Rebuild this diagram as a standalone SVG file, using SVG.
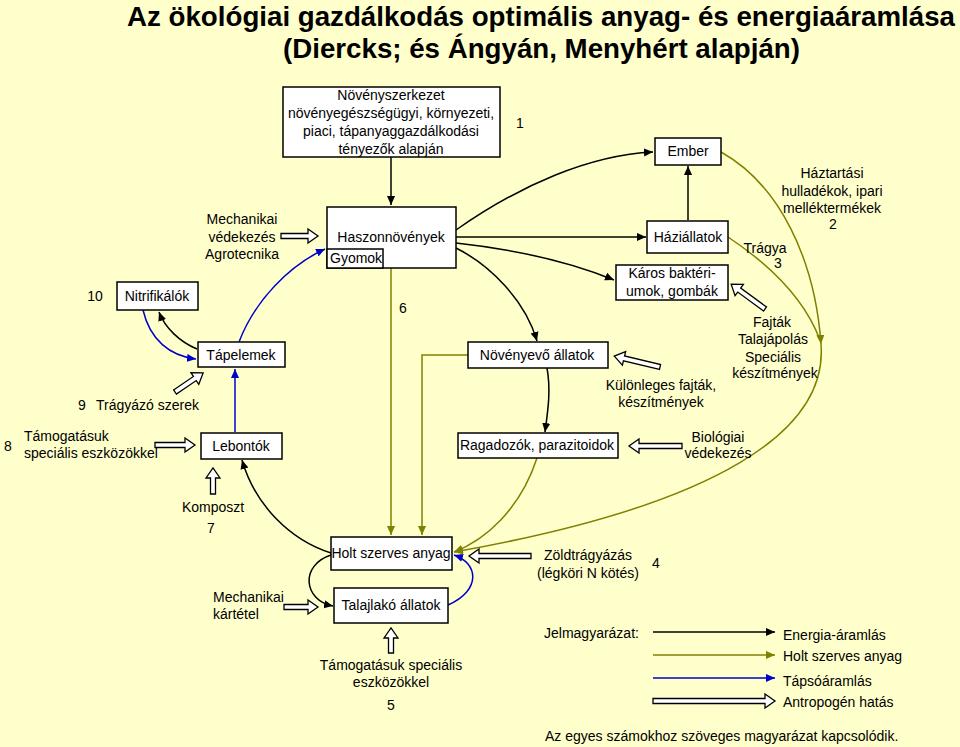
<svg xmlns="http://www.w3.org/2000/svg" width="960" height="747" viewBox="0 0 960 747">
<defs>
<marker id="ab" viewBox="0 0 10 10" markerWidth="9" markerHeight="9" refX="10" refY="5" orient="auto" markerUnits="userSpaceOnUse"><path d="M0,0.5 L10,5 L0,9.5 z" fill="#000"/></marker>
<marker id="ao" viewBox="0 0 10 10" markerWidth="9" markerHeight="9" refX="10" refY="5" orient="auto" markerUnits="userSpaceOnUse"><path d="M0,0.5 L10,5 L0,9.5 z" fill="#808000"/></marker>
<marker id="abl" viewBox="0 0 10 10" markerWidth="9" markerHeight="9" refX="10" refY="5" orient="auto" markerUnits="userSpaceOnUse"><path d="M0,0.5 L10,5 L0,9.5 z" fill="#0000CC"/></marker>
<style>
text{font-family:"Liberation Sans",Arial,sans-serif;font-size:14px;fill:#000}
.m{text-anchor:middle}
.box{fill:#fff;stroke:#000;stroke-width:1.5}
.e{fill:none;stroke:#000;stroke-width:1.5}
.o{fill:none;stroke:#808000;stroke-width:1.5}
.b{fill:none;stroke:#0000CC;stroke-width:1.5}
.h{fill:#fff;stroke:#000;stroke-width:1.3}
.t{font-family:"Liberation Sans",Arial,sans-serif;font-weight:bold;font-size:27px;text-anchor:start}
</style>
</defs>
<rect x="0" y="0" width="960" height="747" fill="#FFFFCC"/>

<g id="title">
<text class="t" x="127" y="26" textLength="828" lengthAdjust="spacingAndGlyphs">Az ökológiai gazdálkodás optimális anyag- és energiaáramlása</text>
<text class="t" x="283" y="58" textLength="517" lengthAdjust="spacingAndGlyphs">(Diercks; és Ángyán, Menyhért alapján)</text>
</g>

<g id="connectors">
<path class="e" d="M391,157 L391,205" marker-end="url(#ab)"/>
<path class="e" d="M456,230 C520,185 590,155 653,152" marker-end="url(#ab)"/>
<path class="e" d="M456,237 L646,237" marker-end="url(#ab)"/>
<path class="e" d="M456,243 C520,250 570,262 614,280" marker-end="url(#ab)"/>
<path class="e" d="M456,248 C490,265 525,300 537,341" marker-end="url(#ab)"/>
<path class="e" d="M688,220 L688,166" marker-end="url(#ab)"/>
<path class="e" d="M547,368 C551,390 548,410 545,432" marker-end="url(#ab)"/>
<path class="e" d="M197,349 C180,342 165,328 159,312" marker-end="url(#ab)"/>
<path class="b" d="M143,310 C150,340 170,356 196,359" marker-end="url(#abl)"/>
<path class="b" d="M239,342 C255,300 290,265 325,249" marker-end="url(#abl)"/>
<path class="b" d="M235,432 L235,369" marker-end="url(#abl)"/>
<path class="e" d="M331,553 C290,540 255,505 242,460" marker-end="url(#ab)"/>
<path class="e" d="M331,555 C300,565 303,600 333,606" marker-end="url(#ab)"/>
<path class="b" d="M448,605 C482,590 478,563 454,555" marker-end="url(#abl)"/>
<path class="o" d="M391,268 L391,535" marker-end="url(#ao)"/>
<path class="o" d="M468,355 L422,355 L422,535" marker-end="url(#ao)"/>
<path class="o" d="M537,458 C520,510 485,540 454,552" marker-end="url(#ao)"/>
<path class="o" d="M721,152 C780,185 815,260 821,344" marker-end="url(#ao)"/>
<path class="o" d="M728,237 C770,265 805,300 820,340"/>
<path class="o" d="M821,344 C828,430 720,505 454,552" marker-end="url(#ao)"/>
<path class="h" transform="translate(281,236)" d="M0,-2.5H27V-7L37,0L27,7V2.5H0Z"/>
<path class="h" transform="translate(175,392) rotate(-34.2)" d="M0,-2.5H24V-7L34,0L24,7V2.5H0Z"/>
<path class="h" transform="translate(155,445)" d="M0,-2.5H30V-7L40,0L30,7V2.5H0Z"/>
<path class="h" transform="translate(213,494) rotate(-90)" d="M0,-2.5H16V-7L26,0L16,7V2.5H0Z"/>
<path class="h" transform="translate(284,607)" d="M0,-2.5H24V-7L34,0L24,7V2.5H0Z"/>
<path class="h" transform="translate(391,653) rotate(-90)" d="M0,-2.5H15V-7L25,0L15,7V2.5H0Z"/>
<path class="h" transform="translate(531,556) rotate(180)" d="M0,-2.5H52V-7L62,0L52,7V2.5H0Z"/>
<path class="h" transform="translate(682,446) rotate(180)" d="M0,-2.5H43V-7L53,0L43,7V2.5H0Z"/>
<path class="h" transform="translate(660,367) rotate(-166.6)" d="M0,-2.5H37V-7L47,0L37,7V2.5H0Z"/>
<path class="h" transform="translate(765,309) rotate(-143.7)" d="M0,-2.5H32V-7L42,0L32,7V2.5H0Z"/>
</g>

<g id="n-novenyszerkezet">
<rect class="box" x="283" y="87" width="217" height="70"/>
<text class="m" x="391" y="100">Növényszerkezet</text>
<text class="m" x="391" y="118">növényegészségügyi, környezeti,</text>
<text class="m" x="391" y="136">piaci, tápanyaggazdálkodási</text>
<text class="m" x="391" y="154">tényezők alapján</text>
</g>
<g id="n-haszon">
<rect class="box" x="327" y="207" width="129" height="61"/>
<text class="m" x="391" y="242">Haszonnövények</text>
</g>
<g id="n-gyomok">
<rect class="box" x="327" y="249" width="56" height="19"/>
<text x="330" y="263">Gyomok</text>
</g>
<g id="n-nitrifikalok">
<rect class="box" x="117" y="282" width="81" height="28"/>
<text class="m" x="157" y="301">Nitrifikálók</text>
</g>
<g id="n-tapelemek">
<rect class="box" x="198" y="342" width="87" height="25"/>
<text class="m" x="241" y="360">Tápelemek</text>
</g>
<g id="n-lebontok">
<rect class="box" x="201" y="433" width="81" height="26"/>
<text class="m" x="241" y="451">Lebontók</text>
</g>
<g id="n-holt">
<rect class="box" x="331" y="537" width="121" height="33"/>
<text class="m" x="391" y="558">Holt szerves anyag</text>
</g>
<g id="n-talajlako">
<rect class="box" x="334" y="588" width="114" height="35"/>
<text class="m" x="391" y="610">Talajlakó állatok</text>
</g>
<g id="n-novenyevo">
<rect class="box" x="468" y="342" width="140" height="26"/>
<text class="m" x="537" y="360">Növényevő állatok</text>
</g>
<g id="n-ragadozok">
<rect class="box" x="458" y="433" width="160" height="25"/>
<text class="m" x="537" y="450">Ragadozók, parazitoidok</text>
</g>
<g id="n-ember">
<rect class="box" x="655" y="138" width="66" height="27"/>
<text class="m" x="688" y="156">Ember</text>
</g>
<g id="n-haziallatok">
<rect class="box" x="647" y="221" width="81" height="32"/>
<text class="m" x="688" y="242">Háziállatok</text>
</g>
<g id="n-karos">
<rect class="box" x="616" y="265" width="112" height="35"/>
<text class="m" x="672" y="278">Káros baktéri-</text>
<text class="m" x="672" y="296">umok, gombák</text>
</g>

<g id="labels">
<text x="520" y="128" class="m">1</text>
<text x="833" y="229" class="m">2</text>
<text x="778" y="268" class="m">3</text>
<text x="656" y="568" class="m">4</text>
<text x="391" y="710" class="m">5</text>
<text x="403" y="313" class="m">6</text>
<text x="211" y="533" class="m">7</text>
<text x="8" y="451" class="m">8</text>
<text x="82" y="410" class="m">9</text>
<text x="95" y="301" class="m">10</text>
<text class="m" x="242" y="224">Mechanikai</text>
<text class="m" x="242" y="242">védekezés</text>
<text class="m" x="242" y="259">Agrotecnika</text>
<text x="96" y="410">Trágyázó szerek</text>
<text x="24" y="441">Támogatásuk</text>
<text x="24" y="458">speciális eszközökkel</text>
<text class="m" x="213" y="512">Komposzt</text>
<text x="213" y="602">Mechanikai</text>
<text x="213" y="619">kártétel</text>
<text class="m" x="391" y="670">Támogatásuk speciális</text>
<text class="m" x="391" y="687">eszközökkel</text>
<text class="m" x="588" y="560">Zöldtrágyázás</text>
<text class="m" x="588" y="578">(légköri N kötés)</text>
<text class="m" x="718" y="442">Biológiai</text>
<text class="m" x="718" y="458">védekezés</text>
<text class="m" x="661" y="390">Különleges fajták,</text>
<text class="m" x="661" y="407">készítmények</text>
<text class="m" x="772" y="327">Fajták</text>
<text class="m" x="773" y="344">Talajápolás</text>
<text class="m" x="773" y="362">Speciális</text>
<text class="m" x="775" y="378">készítmények</text>
<text class="m" x="832" y="178">Háztartási</text>
<text class="m" x="832" y="196">hulladékok, ipari</text>
<text class="m" x="832" y="213">melléktermékek</text>
<text class="m" x="765" y="253">Trágya</text>
</g>

<g id="legend">
<text x="544" y="638">Jelmagyarázat:</text>
<path class="e" d="M653,632 H775" marker-end="url(#ab)"/>
<path class="o" d="M653,655 H775" marker-end="url(#ao)"/>
<path class="b" d="M653,678 H775" marker-end="url(#abl)"/>
<path class="h" transform="translate(653,701)" d="M0,-2.5H112V-7L122,0L112,7V2.5H0Z"/>
<text x="783" y="640">Energia-áramlás</text>
<text x="783" y="661">Holt szerves anyag</text>
<text x="783" y="686">Tápsóáramlás</text>
<text x="783" y="707">Antropogén hatás</text>
<text x="545" y="741">Az egyes számokhoz szöveges magyarázat kapcsolódik.</text>
</g>
</svg>
